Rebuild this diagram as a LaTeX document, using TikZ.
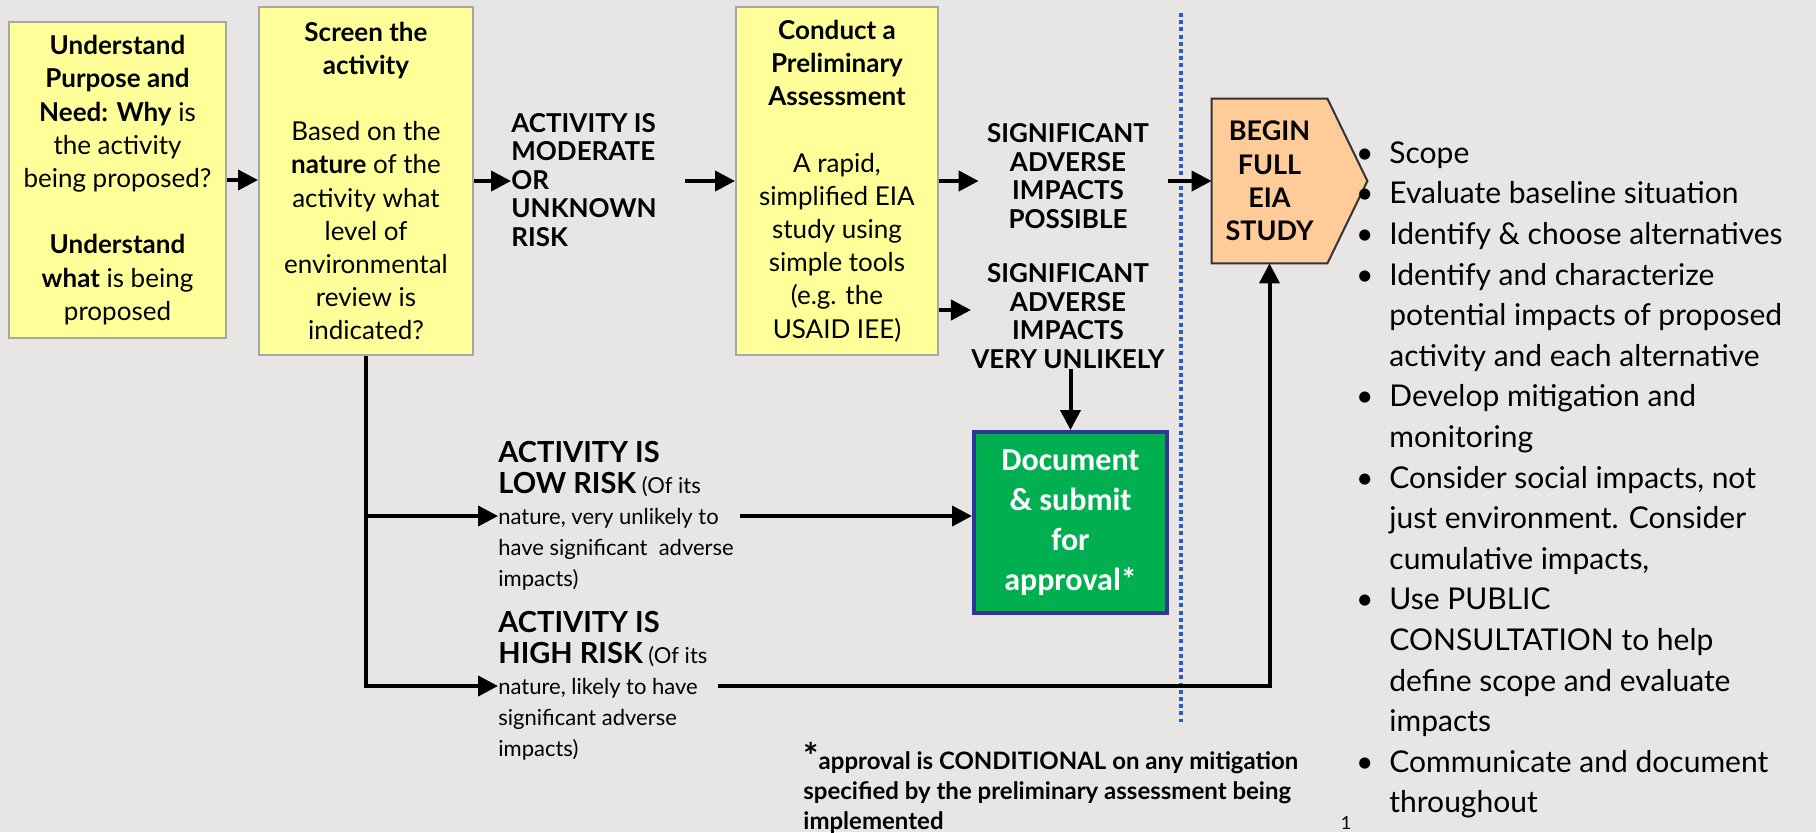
\documentclass[tikz,border=0pt]{standalone}
\usepackage{fontspec}
\setmainfont{Lato}
\newfontfamily\calibfont{Carlito}
\usetikzlibrary{arrows.meta,positioning}
\definecolor{slidegray}{RGB}{231,230,229}
\definecolor{boxyellow}{RGB}{255,255,153}
\definecolor{eiapeach}{RGB}{255,204,153}
\definecolor{docgreen}{RGB}{0,176,80}
\definecolor{docblue}{RGB}{51,51,153}
\definecolor{lineblue}{RGB}{40,90,210}
\newcommand{\riskcaps}[1]{{\bfseries\fontsize{14.5}{15.5}\selectfont #1}}
\newcommand{\bul}{\llap{\textbullet\hspace{8pt}}}

\begin{document}
\begin{tikzpicture}[x=0.5pt,y=-0.5pt,
    stepbox/.style={draw=gray!70,line width=1pt,fill=boxyellow,inner sep=0pt,align=center,font=\fontsize{13}{16.6}\selectfont},
    riskhead/.style={inner sep=0pt,align=left,font=\bfseries\fontsize{13}{14.25}\selectfont},
    sigtext/.style={inner sep=0pt,align=center,font=\bfseries\fontsize{13}{14.35}\selectfont},
    risknote/.style={inner sep=0pt,align=left,anchor=west,font=\fontsize{11}{15.5}\selectfont},
    arr/.style={-{Triangle[length=10pt,width=10pt]},line width=2pt},
  ]
  \useasboundingbox (0,0) rectangle (1816,832);
  \fill[slidegray] (0,0) rectangle (1816,832);

  % the three yellow steps
  \node[stepbox,minimum width=108.5pt,minimum height=158pt] (purpose) at (117.5,180)
    {\textbf{Understand}\\\textbf{Purpose and}\\\textbf{Need: Why} is\\the activity\\being proposed?\\[16.6pt]\textbf{Understand}\\\textbf{what} is being\\proposed};
  \node[stepbox,minimum width=107pt,minimum height=174pt] (screen) at (366,181)
    {\textbf{Screen the}\\\textbf{activity}\\[16.6pt]Based on the\\\textbf{nature} of the\\activity what\\level of\\environmental\\review is\\indicated?};
  \node[stepbox,minimum width=101pt,minimum height=174pt] (prelim) at (837,181)
    {\textbf{Conduct a}\\\textbf{Preliminary}\\\textbf{Assessment}\\[16.6pt]A rapid,\\simplified EIA\\study using\\simple tools\\(e.g. the\\USAID IEE)};

  \node[riskhead,anchor=west] (moderate) at (511,180) {ACTIVITY IS\\MODERATE\\OR\\UNKNOWN\\RISK};
  \node[sigtext] (possible) at (1068,176) {SIGNIFICANT\\ADVERSE\\IMPACTS\\POSSIBLE};
  \node[sigtext] (unlikely) at (1068,316) {SIGNIFICANT\\ADVERSE\\IMPACTS\\VERY UNLIKELY};

  % full EIA
  \node[minimum width=57.5pt,minimum height=82pt,inner sep=0pt] (eia) at (1269.5,181) {};
  \filldraw[fill=eiapeach,draw=black!80,line width=1pt] (eia.north west) -- (eia.north east)
    -- ([xshift=20pt]eia.east) -- (eia.south east) -- (eia.south west) -- cycle;
  \node[align=center,inner sep=0pt,font=\bfseries\fontsize{13.5}{16.6}\selectfont] (eiatext) at (eia) {BEGIN\\FULL\\EIA\\STUDY};

  \node[draw=docblue,line width=2pt,fill=docgreen,text=white,minimum width=96.5pt,minimum height=90.5pt,
    inner sep=0pt,align=center,font=\calibfont\bfseries\fontsize{16}{20}\selectfont] (submit) at (1070.5,522.5)
    {Document\\\& submit\\for\\approval*};

  \node[risknote] (lowrisk) at (498,516)
    {\riskcaps{ACTIVITY IS}\\\riskcaps{LOW RISK} (Of its\\nature, very unlikely to\\have significant\ \ adverse\\impacts)};
  \node[risknote] (highrisk) at (498,686)
    {\riskcaps{ACTIVITY IS}\\\riskcaps{HIGH RISK} (Of its\\nature, likely to have\\significant adverse\\impacts)};

  \node[anchor=west,align=left,inner sep=0pt,font=\bfseries\fontsize{12}{15}\selectfont] (caveat) at (803,788)
    {{\fontsize{18}{15}\selectfont *}approval is CONDITIONAL on any mitigation\\specified by the preliminary assessment being\\implemented};

  \node[anchor=west,align=left,inner sep=0pt,font=\fontsize{15}{20.3}\selectfont] (tasks) at (1389,480)
    {\bul Scope\\\bul Evaluate baseline situation\\\bul Identify \& choose alternatives\\
     \bul Identify and characterize\\potential impacts of proposed\\activity and each alternative\\
     \bul Develop mitigation and\\monitoring\\
     \bul Consider social impacts, not\\just environment. Consider\\cumulative impacts,\\
     \bul Use PUBLIC\\CONSULTATION to help\\define scope and evaluate\\impacts\\
     \bul Communicate and document\\throughout};

  \node[anchor=south,inner sep=0pt,font=\fontsize{9}{9}\selectfont] (pagenum) at (1346,830) {1};

  % dotted divider
  \coordinate (divtop) at (1181,13);
  \coordinate (divbot) at (1181,722);
  \draw[lineblue,line width=1.6pt,dash pattern=on 2pt off 1.6pt] (divtop) -- (divbot);

  % connectors
  \draw[arr] (purpose.east) -- (purpose.east -| screen.west);
  \draw[arr] (screen.east) -- (screen.east -| moderate.west);
  \draw[arr] ([xshift=-25pt]prelim.west) -- (prelim.west);
  \draw[arr] (prelim.east) -- ([xshift=-4pt]prelim.east -| possible.west);
  \path (unlikely.west) ++(0,-6) coordinate (unlikelyin);
  \draw[arr] (unlikelyin -| prelim.east) -- (unlikelyin);
  \draw[arr] (unlikely.south -| submit.north) -- (submit.north);
  \draw[arr] ([xshift=-22pt]eia.west) -- (eia.west);
  \draw[arr] (screen.south |- lowrisk.west) -- (lowrisk.west);
  \draw[arr] (screen.south) |- (highrisk.west);
  \draw[arr] ([xshift=3pt]lowrisk.east) -- (lowrisk.east -| submit.west);
  \draw[arr] ([xshift=5pt]highrisk.east) -| (eia.south);
\end{tikzpicture}
\end{document}
